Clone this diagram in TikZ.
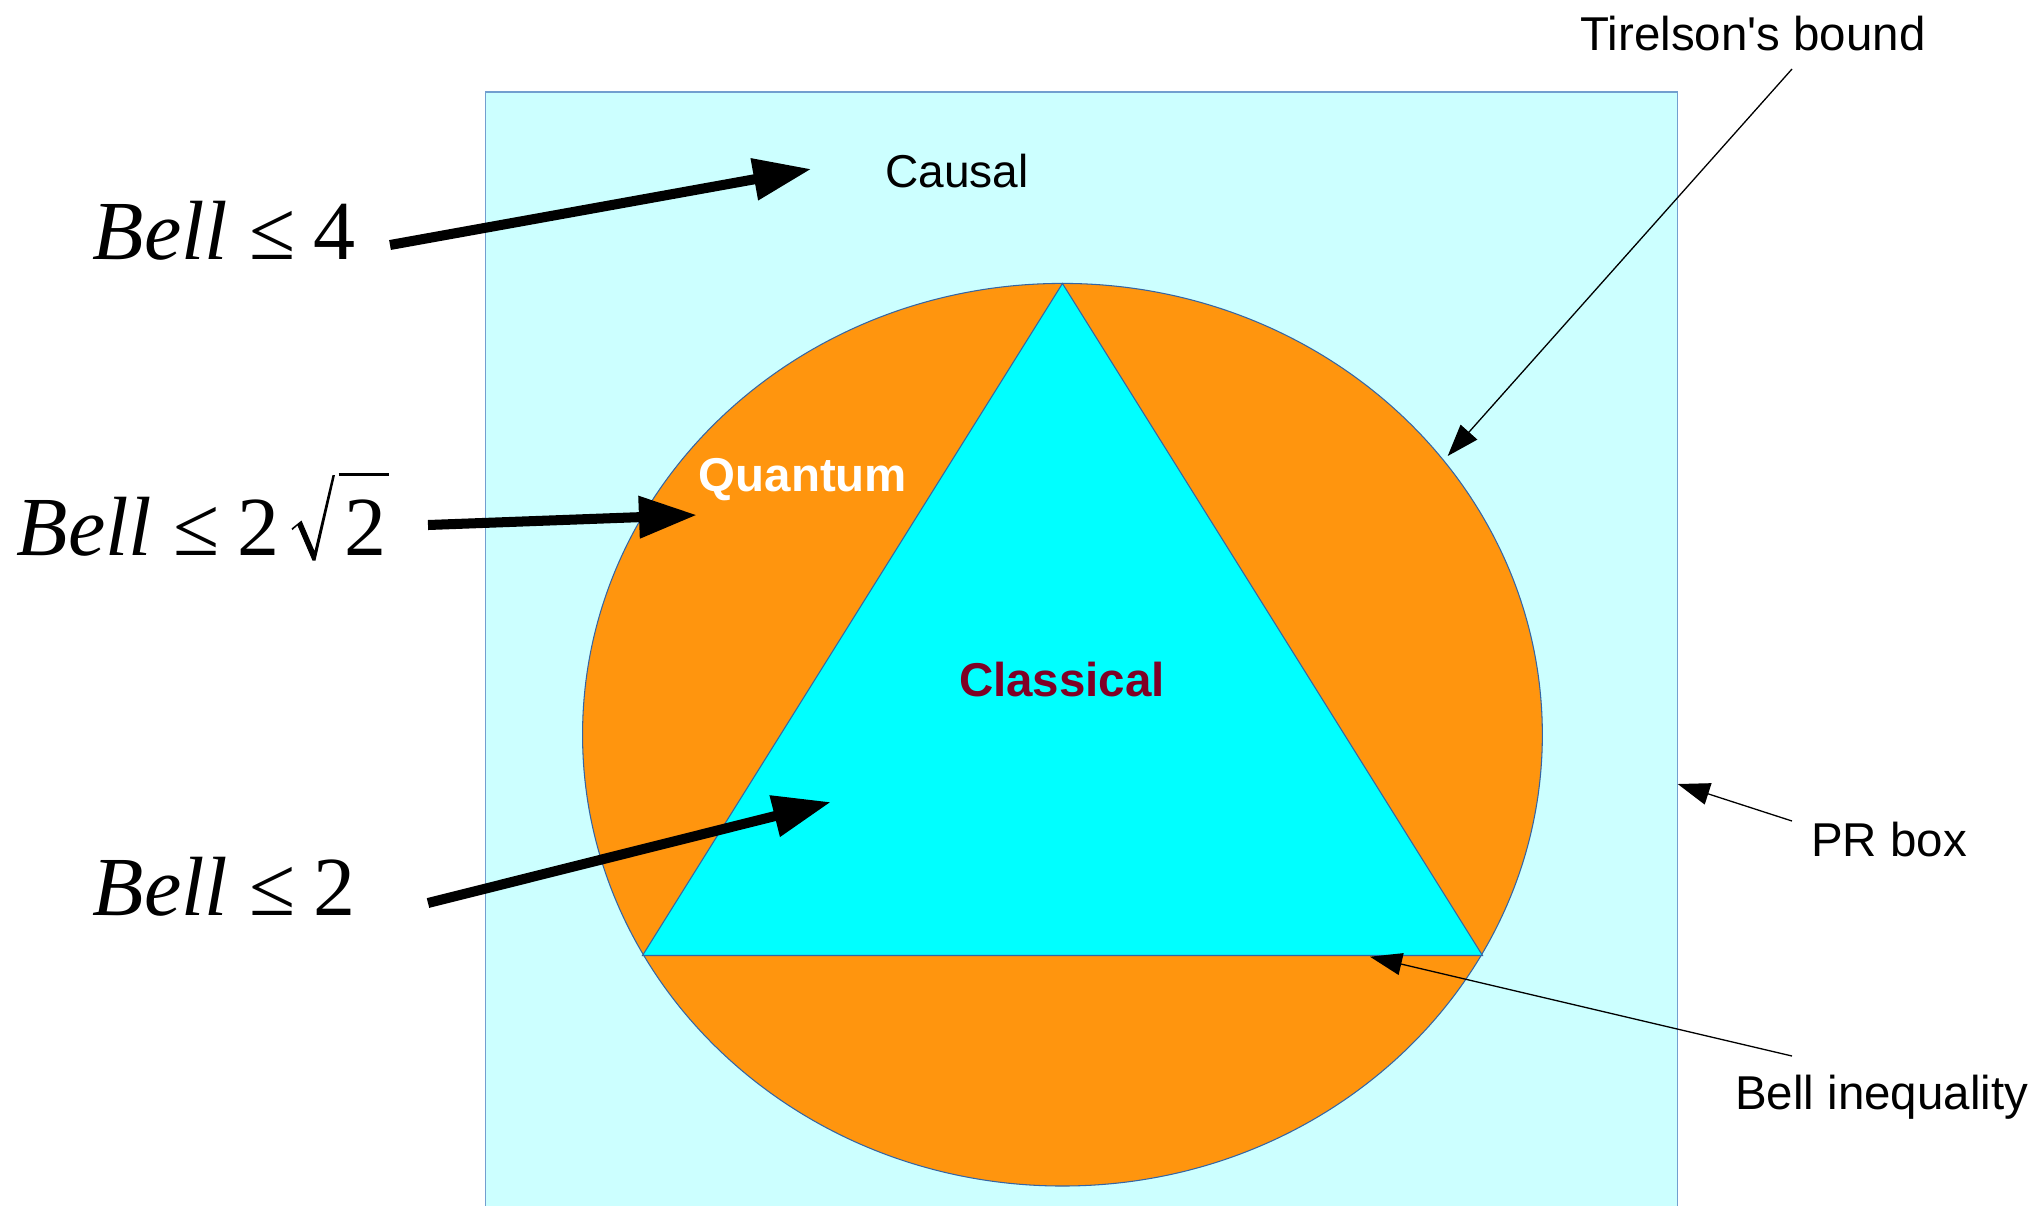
\documentclass[tikz,border=0pt]{standalone}
\usepackage{fontspec}
\setmainfont{Liberation Sans}[Ligatures=TeXOff]
\newfontfamily\bellfont{Liberation Serif}
\usetikzlibrary{arrows.meta}
\definecolor{boxfill}{HTML}{CCFFFF}
\definecolor{boxline}{HTML}{729FCF}
\definecolor{qorange}{HTML}{FF950E}
\definecolor{ccyan}{HTML}{00FFFF}
\definecolor{edgeblue}{HTML}{3465A4}
\definecolor{cred}{HTML}{7F0025}
\tikzset{
  lbl/.style={inner sep=0pt, anchor=base, font=\fontsize{13.5}{16}\selectfont},
  boldlbl/.style={inner sep=0pt, anchor=base, font=\fontsize{13.5}{16}\selectfont\bfseries},
  bellf/.style={inner sep=0pt, anchor=base west, font=\bellfont\fontsize{23.9}{28}\selectfont},
  fatarrow/.style={line width=2.85pt, -{Triangle[length=16.5pt,width=11.4pt]}},
  pointer/.style={line width=0.37pt, -{Triangle[length=9.1pt,width=6.3pt]}},
}
\begin{document}
\begin{tikzpicture}[x=0.01cm,y=-0.01cm]
\useasboundingbox (0,0) rectangle (2039,1205);
\clip (0,0) rectangle (2039,1205);
% causal box
\fill[boxfill] (485.5,92) rectangle (1677.5,1220);
\draw[boxline, line width=0.5pt] (485.5,1220) -- (485.5,92) -- (1677.5,92) -- (1677.5,1220);
% quantum set
\draw[edgeblue, line width=0.3pt, fill=qorange] (1062.45,734.7) ellipse [x radius=479.9, y radius=451.3];
% classical polytope
\draw[edgeblue, line width=0.3pt, fill=ccyan] (1062.45,283.5) -- (642.5,955.5) -- (1482.5,955.5) -- cycle;

% labels
\node[lbl] (tirelson) at (1753,50) {Tirelson's bound};
\node[lbl, font=\fontsize{13.1}{16}\selectfont] (causal) at (957,187) {Causal};
\node[lbl] (prbox) at (1889,856) {PR box};
\node[lbl] (bellineq) at (1881.7,1109) {Bell inequality};
\node[boldlbl, text=white] (quantum) at (803,491) {Quantum};
\node[boldlbl, text=cred] (classical) at (1062,696) {Classical};

% Bell expressions
\node[bellf] (b4) at (92,259) {\textit{Bell}\hspace{0.25em}≤\hspace{0.22em}4};
\node[bellf] (b2r2) at (16,555) {\textit{Bell}\hspace{0.25em}≤\hspace{0.22em}2};
\node[bellf] (r2) at (344,555) {2};
\fill (291.5,528.5) -- (301.5,520.5) -- (314.5,551) -- (332.5,475) -- (335,475)
      -- (315.5,560.5) -- (312.5,560.5) -- (297.5,525.5) -- (292.5,530) -- cycle;
\draw[line width=0.7pt] (338.5,474.3) -- (389,474.3);
\node[bellf] (b2) at (92,915) {\textit{Bell}\hspace{0.25em}≤\hspace{0.22em}2};

% arrow end points
\coordinate (a4s) at (390,245);   \coordinate (a4e) at (811.4,169);
\coordinate (aqs) at (428,525);   \coordinate (aqe) at (697,515);
\coordinate (acs) at (428,903);   \coordinate (ace) at (831,802);
\coordinate (ats) at (1792,69);   \coordinate (ate) at (1447.7,456);
\coordinate (aps) at (1792,821);  \coordinate (ape) at (1677.7,784);
\coordinate (abs) at (1792,1056); \coordinate (abe) at (1370,956.7);

\draw[fatarrow] (a4s) -- (a4e);
\draw[fatarrow] (aqs) -- (aqe);
\draw[fatarrow] (acs) -- (ace);
\draw[pointer] (ats) -- (ate);
\draw[pointer] (aps) -- (ape);
\draw[pointer] (abs) -- (abe);
\end{tikzpicture}
\end{document}
